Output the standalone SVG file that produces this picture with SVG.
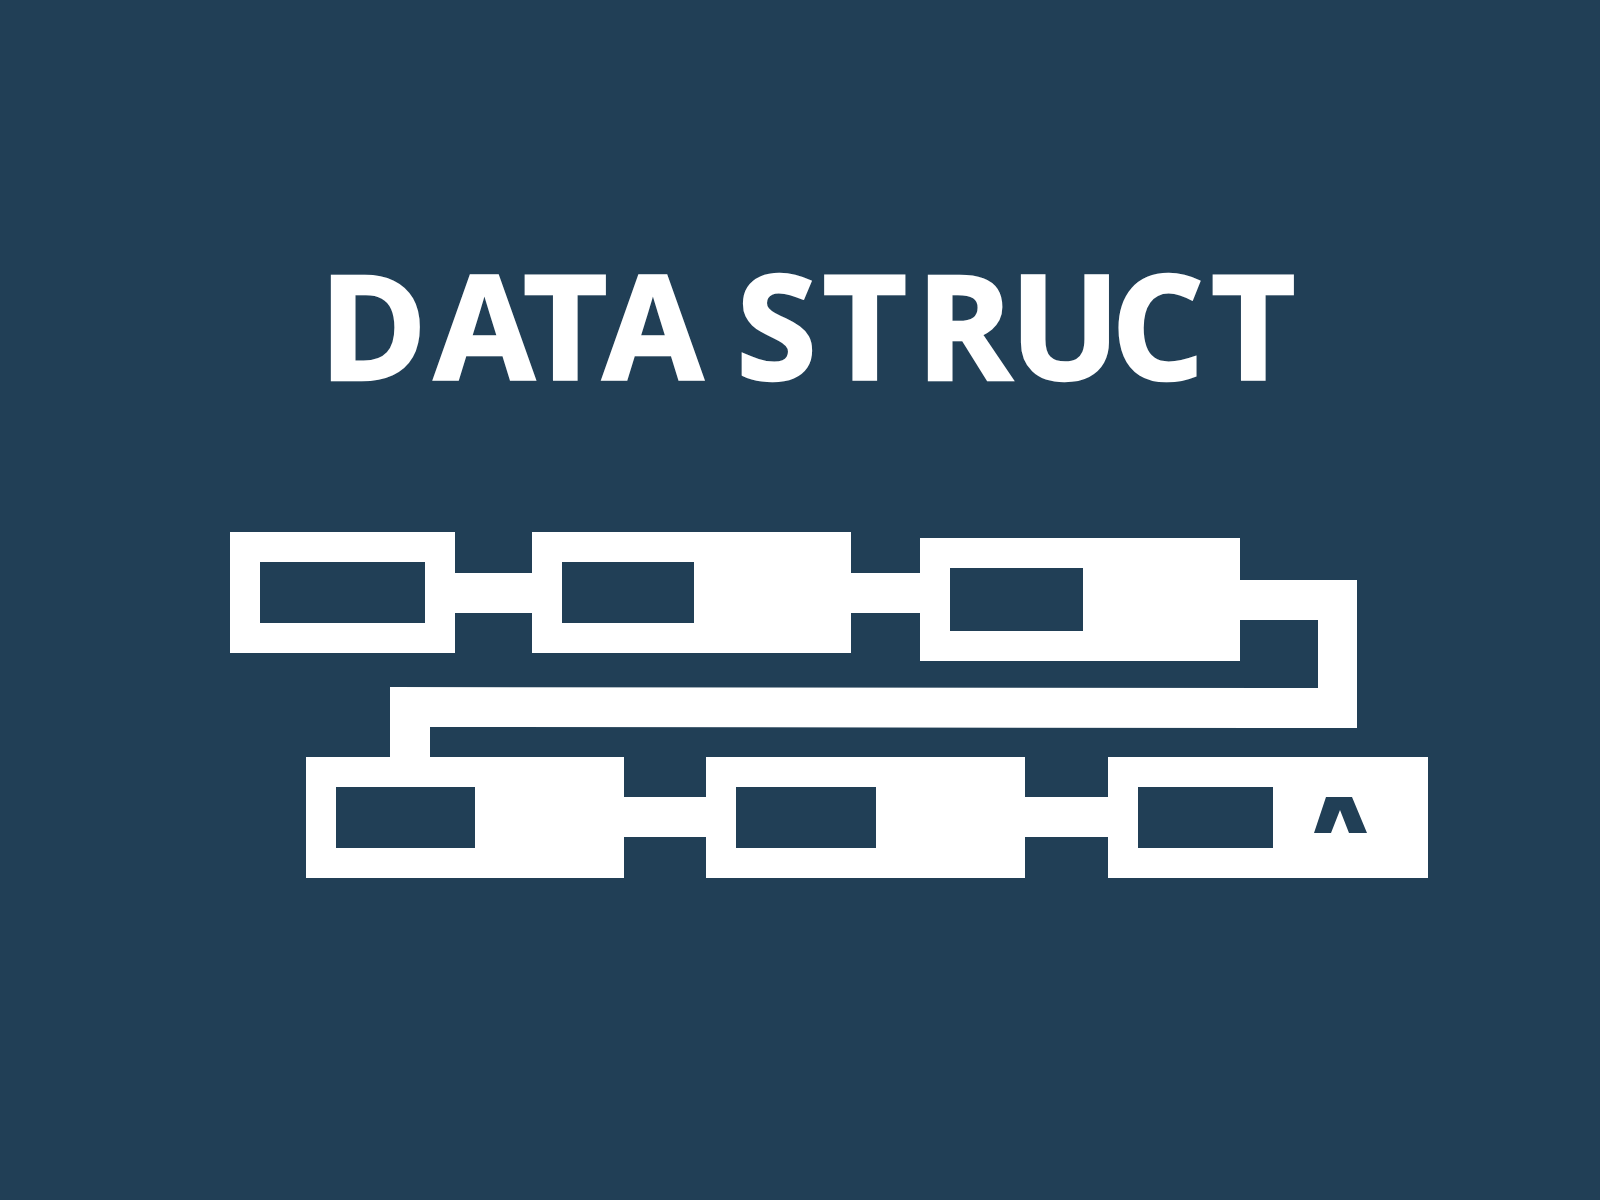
<svg xmlns="http://www.w3.org/2000/svg" width="1600" height="1200" viewBox="0 0 1600 1200">
  <style>
    .bg { fill: #213f56; }
    .w { fill: #ffffff; }
    .hole { fill: #213f56; }
    .title { font-family: "Open Sans", "Liberation Sans", sans-serif; font-weight: 700; font-size: 146px; fill: #ffffff; stroke: #ffffff; stroke-width: 2.5; stroke-linejoin: miter; }
  </style>
  <rect class="bg" x="0" y="0" width="1600" height="1200"/>
  <text class="title" x="824.2" y="380" text-anchor="middle" dx="-16.9 6.8 -11.8 -4.9 0 -4.9 5.7 8.9 -2.7 -8.8 6.7">DATA STRUCT</text>

  <g id="connectors">
    <rect class="w" x="454" y="573" width="79" height="40"/>
    <rect class="w" x="850" y="573" width="71" height="40"/>
    <polygon class="w" points="1239,580 1357,580 1357,728 430,727 430,758 390,758 390,687 1318,688 1318,620 1239,620"/>
    <rect class="w" x="623" y="797" width="84" height="40"/>
    <rect class="w" x="1024" y="797" width="85" height="40"/>
  </g>

  <g id="node1">
    <rect class="w" x="230" y="532" width="225" height="121"/>
    <rect class="hole" x="260" y="562" width="165" height="61"/>
  </g>
  <g id="node2">
    <rect class="w" x="532" y="532" width="319" height="121"/>
    <rect class="hole" x="562" y="562" width="132" height="61"/>
  </g>
  <g id="node3">
    <rect class="w" x="920" y="538" width="320" height="123"/>
    <rect class="hole" x="950" y="568" width="133" height="63"/>
  </g>
  <g id="node4">
    <rect class="w" x="306" y="757" width="318" height="121"/>
    <rect class="hole" x="336" y="787" width="139" height="61"/>
  </g>
  <g id="node5">
    <rect class="w" x="706" y="757" width="319" height="121"/>
    <rect class="hole" x="736" y="787" width="140" height="61"/>
  </g>
  <g id="node6">
    <rect class="w" x="1108" y="757" width="320" height="121"/>
    <rect class="hole" x="1138" y="787" width="135" height="61"/>
    <polygon class="hole" points="1314,833 1326,797 1352,797 1367,833 1349,833 1340,810 1331,833"/>
  </g>
</svg>
